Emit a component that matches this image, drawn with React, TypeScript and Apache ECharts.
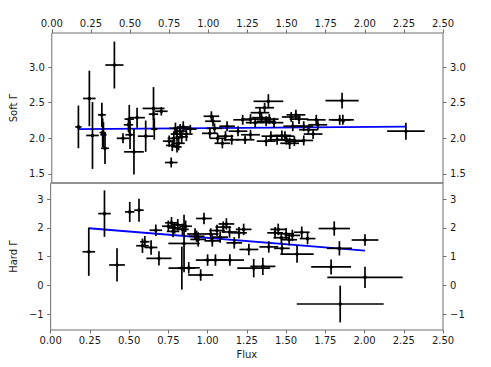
import React, { useEffect, useRef } from "react";
import * as echarts from "echarts";

// [flux, fluxErr, gamma, gammaErr]
const softPoints: number[][] = [
  [0.17, 0.02, 2.16, 0.30],
  [0.24, 0.04, 2.56, 0.39],
  [0.26, 0.04, 2.04, 0.47],
  [0.32, 0.025, 2.33, 0.17],
  [0.325, 0.02, 2.08, 0.2],
  [0.33, 0.02, 2.05, 0.18],
  [0.34, 0.025, 1.86, 0.22],
  [0.4, 0.058, 3.03, 0.33],
  [0.455, 0.04, 2.0, 0.07],
  [0.49, 0.03, 2.19, 0.1],
  [0.495, 0.03, 2.27, 0.2],
  [0.5, 0.03, 2.05, 0.2],
  [0.545, 0.05, 2.29, 0.14],
  [0.525, 0.063, 1.81, 0.32],
  [0.6, 0.05, 2.03, 0.22],
  [0.65, 0.07, 2.42, 0.3],
  [0.65, 0.03, 2.34, 0.08],
  [0.655, 0.02, 2.13, 0.15],
  [0.7, 0.04, 2.38, 0.06],
  [0.763, 0.04, 1.66, 0.07],
  [0.75, 0.04, 1.96, 0.08],
  [0.77, 0.04, 1.9, 0.08],
  [0.78, 0.04, 2.0, 0.1],
  [0.8, 0.04, 2.06, 0.1],
  [0.79, 0.04, 2.14, 0.08],
  [0.82, 0.04, 2.1, 0.1],
  [0.83, 0.04, 2.02, 0.1],
  [0.81, 0.04, 1.93, 0.1],
  [0.84, 0.04, 2.16, 0.08],
  [0.86, 0.04, 2.06, 0.1],
  [0.885, 0.04, 2.13, 0.06],
  [0.8, 0.03, 1.88, 0.08],
  [1.02, 0.05, 2.31, 0.07],
  [1.03, 0.05, 2.24, 0.07],
  [1.01, 0.05, 2.07, 0.07],
  [1.04, 0.05, 2.14, 0.07],
  [1.06, 0.05, 2.0, 0.07],
  [1.09, 0.05, 1.93, 0.07],
  [1.11, 0.05, 2.03, 0.07],
  [1.12, 0.05, 2.17, 0.07],
  [1.15, 0.05, 1.98, 0.07],
  [1.235, 0.06, 1.98, 0.06],
  [1.22, 0.06, 2.26, 0.07],
  [1.384, 0.095, 2.52, 0.1],
  [1.36, 0.06, 2.43, 0.07],
  [1.33, 0.06, 2.36, 0.07],
  [1.27, 0.06, 2.27, 0.07],
  [1.3, 0.06, 2.22, 0.07],
  [1.34, 0.06, 2.29, 0.07],
  [1.37, 0.06, 2.24, 0.07],
  [1.39, 0.06, 2.27, 0.07],
  [1.42, 0.06, 2.22, 0.07],
  [1.37, 0.06, 1.96, 0.07],
  [1.4, 0.06, 2.03, 0.07],
  [1.44, 0.06, 1.98, 0.07],
  [1.47, 0.06, 2.04, 0.07],
  [1.5, 0.06, 1.98, 0.07],
  [1.53, 0.06, 2.3, 0.07],
  [1.56, 0.06, 2.33, 0.07],
  [1.54, 0.06, 2.17, 0.07],
  [1.58, 0.06, 2.27, 0.07],
  [1.61, 0.06, 2.17, 0.07],
  [1.64, 0.06, 2.12, 0.07],
  [1.69, 0.06, 2.26, 0.07],
  [1.7, 0.06, 2.19, 0.07],
  [1.49, 0.06, 2.03, 0.07],
  [1.55, 0.06, 1.96, 0.07],
  [1.52, 0.06, 1.93, 0.08],
  [1.61, 0.06, 1.97, 0.07],
  [1.67, 0.06, 2.06, 0.07],
  [1.19, 0.06, 2.1, 0.07],
  [1.27, 0.06, 2.05, 0.07],
  [1.855, 0.106, 2.53, 0.11],
  [1.84, 0.07, 2.26, 0.07],
  [1.86, 0.07, 2.26, 0.07],
  [2.263, 0.12, 2.1, 0.12],
];

const hardPoints: number[][] = [
  [0.243, 0.04, 1.17, 0.84],
  [0.343, 0.04, 2.5, 0.81],
  [0.423, 0.05, 0.71, 0.58],
  [0.504, 0.03, 2.56, 0.35],
  [0.563, 0.03, 2.62, 0.4],
  [0.6, 0.03, 1.52, 0.2],
  [0.585, 0.04, 1.38, 0.25],
  [0.64, 0.04, 1.32, 0.25],
  [0.67, 0.04, 1.92, 0.2],
  [0.69, 0.08, 0.94, 0.25],
  [0.75, 0.04, 2.06, 0.2],
  [0.77, 0.04, 2.18, 0.2],
  [0.79, 0.04, 2.0, 0.2],
  [0.81, 0.04, 2.11, 0.2],
  [0.84, 0.04, 1.95, 0.2],
  [0.86, 0.04, 2.06, 0.2],
  [0.78, 0.04, 1.88, 0.2],
  [0.85, 0.1, 1.46, 1.0],
  [0.836, 0.085, 0.6, 0.75],
  [0.88, 0.07, 0.61, 0.2],
  [0.956, 0.08, 0.36, 0.2],
  [0.93, 0.05, 1.71, 0.2],
  [0.977, 0.05, 2.33, 0.2],
  [0.92, 0.05, 1.79, 0.2],
  [0.94, 0.05, 1.6, 0.25],
  [1.0, 0.075, 0.88, 0.2],
  [1.05, 0.075, 0.88, 0.2],
  [1.02, 0.05, 1.79, 0.2],
  [1.03, 0.05, 1.55, 0.2],
  [1.06, 0.05, 1.91, 0.2],
  [1.08, 0.05, 1.68, 0.2],
  [1.1, 0.05, 2.03, 0.2],
  [1.12, 0.05, 2.14, 0.2],
  [1.14, 0.05, 1.86, 0.2],
  [1.142, 0.09, 0.88, 0.2],
  [1.17, 0.05, 1.48, 0.2],
  [1.2, 0.05, 1.83, 0.2],
  [1.23, 0.05, 1.95, 0.2],
  [1.263, 0.06, 1.25, 0.2],
  [1.294, 0.105, 0.6, 0.32],
  [1.352, 0.08, 0.66, 0.3],
  [1.39, 0.06, 1.34, 0.2],
  [1.43, 0.05, 1.83, 0.2],
  [1.45, 0.05, 1.95, 0.2],
  [1.47, 0.05, 1.66, 0.2],
  [1.474, 0.05, 1.29, 0.2],
  [1.5, 0.05, 1.8, 0.2],
  [1.52, 0.05, 1.59, 0.2],
  [1.54, 0.05, 1.74, 0.2],
  [1.57, 0.106, 1.09, 0.3],
  [1.6, 0.05, 1.85, 0.2],
  [1.637, 0.05, 1.63, 0.2],
  [1.807, 0.1, 1.98, 0.25],
  [1.84, 0.08, 1.29, 0.25],
  [1.787, 0.127, 0.64, 0.26],
  [2.003, 0.085, 1.58, 0.2],
  [2.003, 0.24, 0.28, 0.37],
  [1.845, 0.277, -0.65, 0.64],
];

const softFit: number[][] = [
  [0.17, 2.13],
  [2.263, 2.165],
];
const hardFit: number[][] = [
  [0.243, 1.99],
  [2.003, 1.21],
];

const xTicks = [0, 0.25, 0.5, 0.75, 1.0, 1.25, 1.5, 1.75, 2.0, 2.25, 2.5];
const softTicks = [1.5, 2.0, 2.5, 3.0];
const hardTicks = [-1, 0, 1, 2, 3];

const FONT = "DejaVu Sans";
const SPINE = "#6e6e6e";
const TEXT = "#1a1a1a";

function renderErr(params: any, api: any) {
  const x = api.value(0);
  const xe = api.value(1);
  const y = api.value(2);
  const ye = api.value(3);
  const p = api.coord([x, y]);
  const l = api.coord([x - xe, y]);
  const r = api.coord([x + xe, y]);
  const t = api.coord([x, y + ye]);
  const b = api.coord([x, y - ye]);
  const st = { stroke: "#000", lineWidth: 1.7 };
  return {
    type: "group",
    children: [
      { type: "line", shape: { x1: l[0], y1: l[1], x2: r[0], y2: r[1] }, style: st },
      { type: "line", shape: { x1: t[0], y1: t[1], x2: b[0], y2: b[1] }, style: st },
      { type: "circle", shape: { cx: p[0], cy: p[1], r: 1.8 }, style: { fill: "#000" } },
    ],
  };
}

function yAxisDef(grid: number, pos: string, min: number, max: number, ticks: number[], fmt: (v: number) => string, name?: string): any {
  return {
    type: "value",
    gridIndex: grid,
    position: pos,
    min,
    max,
    name: name || "",
    nameLocation: "middle",
    nameGap: 28,
    nameRotate: 90,
    nameTextStyle: { fontFamily: FONT, fontSize: 10, color: TEXT },
    axisLine: { show: false, onZero: false },
    splitLine: { show: false },
    axisTick: { show: true, length: 3.5, customValues: ticks, lineStyle: { color: SPINE, width: 1 } },
    axisLabel: {
      show: true,
      customValues: ticks,
      margin: 7,
      fontFamily: FONT,
      fontSize: 10,
      color: TEXT,
      formatter: (v: number) => fmt(v),
    },
  };
}

function xAxisDef(grid: number, pos: string, name?: string): any {
  return {
    type: "value",
    gridIndex: grid,
    position: pos,
    min: 0,
    max: 2.5,
    name: name || "",
    nameLocation: "middle",
    nameGap: 19,
    nameTextStyle: { fontFamily: FONT, fontSize: 10, color: TEXT },
    axisLine: { show: false, onZero: false },
    splitLine: { show: false },
    axisTick: { show: true, length: 3.5, customValues: xTicks, lineStyle: { color: SPINE, width: 1 } },
    axisLabel: {
      show: true,
      customValues: xTicks,
      margin: 5,
      fontFamily: FONT,
      fontSize: 10,
      color: TEXT,
      formatter: (v: number) => v.toFixed(2),
    },
  };
}

const softFmt = (v: number) => v.toFixed(1);
const hardFmt = (v: number) => (v < 0 ? "\u2212" + Math.abs(v).toFixed(0) : v.toFixed(0));

export default function App() {
  const ref = useRef<HTMLDivElement>(null);
  useEffect(() => {
    if (!ref.current) return;
    const chart = echarts.init(ref.current, null, { renderer: "svg" });
    chart.setOption({
      animation: false,
      backgroundColor: "#fff",
      grid: [
        { left: 49, right: 48, top: 33, height: 150, show: true, borderColor: SPINE, borderWidth: 1, backgroundColor: "transparent" },
        { left: 49, right: 48, top: 183, height: 147, show: true, borderColor: SPINE, borderWidth: 1, backgroundColor: "transparent" },
      ],
      xAxis: [xAxisDef(0, "top"), xAxisDef(1, "bottom", "Flux")],
      yAxis: [
        yAxisDef(0, "left", 1.372, 3.48, softTicks, softFmt, "Soft \u0393"),
        yAxisDef(0, "right", 1.372, 3.48, softTicks, softFmt),
        yAxisDef(1, "left", -1.557, 3.567, hardTicks, hardFmt, "Hard \u0393"),
        yAxisDef(1, "right", -1.557, 3.567, hardTicks, hardFmt),
      ],
      series: [
        {
          type: "line",
          xAxisIndex: 0,
          yAxisIndex: 0,
          data: softFit,
          symbol: "none",
          lineStyle: { color: "#0000ff", width: 1.8 },
          z: 1,
        },
        {
          type: "custom",
          xAxisIndex: 0,
          yAxisIndex: 0,
          data: softPoints,
          encode: { x: 0, y: 2 },
          renderItem: renderErr,
          z: 2,
        },
        {
          type: "line",
          xAxisIndex: 1,
          yAxisIndex: 2,
          data: hardFit,
          symbol: "none",
          lineStyle: { color: "#0000ff", width: 1.8 },
          z: 1,
        },
        {
          type: "custom",
          xAxisIndex: 1,
          yAxisIndex: 2,
          data: hardPoints,
          encode: { x: 0, y: 2 },
          renderItem: renderErr,
          z: 2,
        },
      ],
    });
    return () => chart.dispose();
  }, []);
  return (
    <div
      ref={ref}
      style={{ position: "fixed", left: 0, top: 0, width: 491, height: 367, background: "#fff" }}
    />
  );
}
